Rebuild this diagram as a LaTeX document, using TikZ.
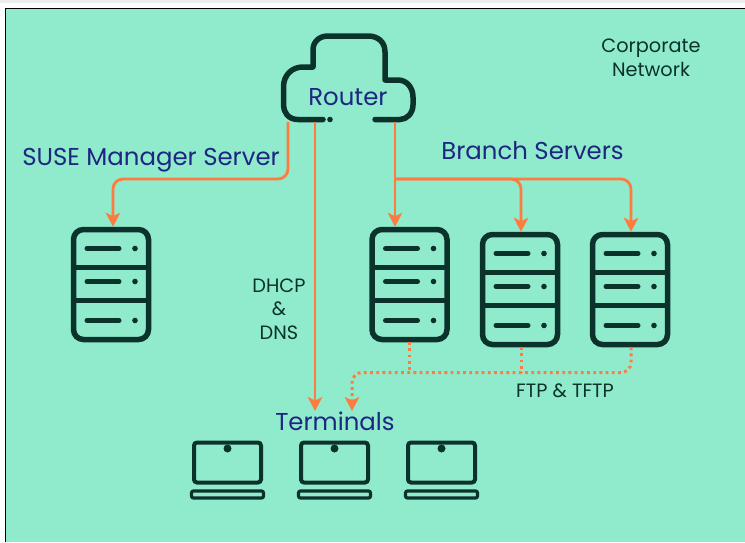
\documentclass[tikz,border=0pt]{standalone}
\usepackage{fontspec}
\setmainfont{Poppins}
\usepackage{tikz}
\usetikzlibrary{arrows.meta}
\definecolor{mintbg}{HTML}{90EBCD}
\definecolor{pine}{HTML}{0C322C}
\definecolor{persimmon}{HTML}{FE7C3F}
\definecolor{midnight}{HTML}{1E2680}
\tikzstyle{title} = [text=midnight, inner sep=0pt, font=\fontsize{24.4}{28}\selectfont]
\tikzstyle{note} = [text=pine, inner sep=0pt, align=center, font=\fontsize{19.3}{23.5}\selectfont]
\tikzstyle{serverbox} = [draw=pine, line width=5.5pt, rectangle, rounded corners=10pt, minimum width=75pt, minimum height=110pt, inner sep=0pt]
\tikzstyle{screenbox} = [draw=pine, line width=4pt, rectangle, rounded corners=3pt, minimum width=67pt, minimum height=40pt, inner sep=0pt]
\tikzstyle{basebox} = [draw=pine, line width=3.2pt, rectangle, rounded corners=2pt, minimum width=72pt, minimum height=7pt, inner sep=0pt]
\tikzstyle{detail} = [draw=pine, line width=5pt, line cap=round]
\tikzstyle{link} = [draw=persimmon, line width=2.8pt, rounded corners=10pt, -{Stealth[length=14pt,width=14.5pt,inset=3.5pt]}]
\tikzstyle{feed} = [link, line width=3pt, dash pattern=on 2.8pt off 3.4pt]
\newcommand{\serverunit}[3]{%
    \node [serverbox] (#1) at (#2,#3) {};
    \draw [draw=pine, line width=5pt] (#2-37,#3-17) -- (#2+37,#3-17) (#2-37,#3+16) -- (#2+37,#3+16);
    \foreach \yoff in {-36,-3,36} {
        \draw [detail] (#2-24,#3+\yoff) -- (#2+8,#3+\yoff);
        \fill [pine] (#2+24,#3+\yoff) circle (2.8);
    }
}
\newcommand{\laptopunit}[2]{%
    \node [screenbox] (#1) at (#2,462.5) {};
    \node [basebox] (#1base) at (#2,494.5) {};
    \fill [pine] (#2,448.5) circle (4);
}
\begin{document}
\begin{tikzpicture}[x=1pt,y=-1pt]
\useasboundingbox (0,0) rectangle (745,542);
\fill [white] (0,0) rectangle (745,542);
\fill [black!7] (0,0) rectangle (745,3);
\filldraw [fill=mintbg, draw=none] (5,8) rectangle (745,542);
\draw [black, line width=1.5pt] (5.5,542) -- (5.5,8.5) -- (745,8.5);

% cloud
\draw [draw=pine, line width=5.5pt, line cap=round, line join=round]
    (323,119.5) -- (298,119.5) .. controls (288,119.5) and (283.5,112) .. (283.5,105)
    -- (283.5,87) .. controls (283.5,75) and (292,67) .. (303,67) -- (313,67)
    -- (313,50) .. controls (313,41) and (320,36) .. (328,36) -- (368,36)
    .. controls (378,36) and (385,42) .. (385,52) -- (385,80) -- (398,80)
    .. controls (407,80) and (413,88) .. (413,97) -- (413,105)
    .. controls (413,113) and (407,119.5) .. (400,119.5) -- (375,119.5);
\fill [pine] (330,119.5) circle (2.8);
\node [title] (router) at (348,97) {Router};

\serverunit{mgrsrv}{111}{284.5}
\serverunit{branchA}{409.5}{284.5}
\serverunit{branchB}{520}{289.5}
\serverunit{branchC}{630}{289.5}
\laptopunit{termA}{227.5}
\laptopunit{termB}{334.5}
\laptopunit{termC}{441.5}

\node [title] (mgrlabel) at (151,160) {SUSE Manager Server};
\node [title] (branchlabel) at (532.5,150.5) {Branch Servers};
\node [title] (termlabel) at (335,421.5) {Terminals};
\node [note] (corp) at (651,58) {Corporate\\Network};
\node [note] (dhcp) at (279,309) {DHCP\\\&\\DNS};
\node [note] (ftp) at (565,391) {FTP \& TFTP};

\coordinate (rtleft) at (288,122);
\coordinate (rtmid) at (315,122);
\coordinate (rtright) at (395,122);
\coordinate (bus) at (395,179);
\coordinate (feedbus) at (410,372.5);
\coordinate (termdrop) at (352,411);

\draw [link] (rtleft) -- (rtleft |- bus) -| ([xshift=2pt]mgrsrv.north);
\draw [link] (rtmid) -- (rtmid |- termdrop);
\draw [link] (rtright) -- (rtright |- branchA.north);
\draw [link] (bus) -| ([xshift=1pt]branchB.north);
\draw [link] (bus) -| ([xshift=1pt]branchC.north);

\draw [feed] ([xshift=1pt]branchC.south) |- (feedbus) -| (termdrop);
\draw [feed, -] ([xshift=1pt]branchB.south) -- ([xshift=1pt]branchB.south |- feedbus);
\draw [feed, -] (branchA.south) -- (branchA.south |- feedbus);
\end{tikzpicture}
\end{document}
